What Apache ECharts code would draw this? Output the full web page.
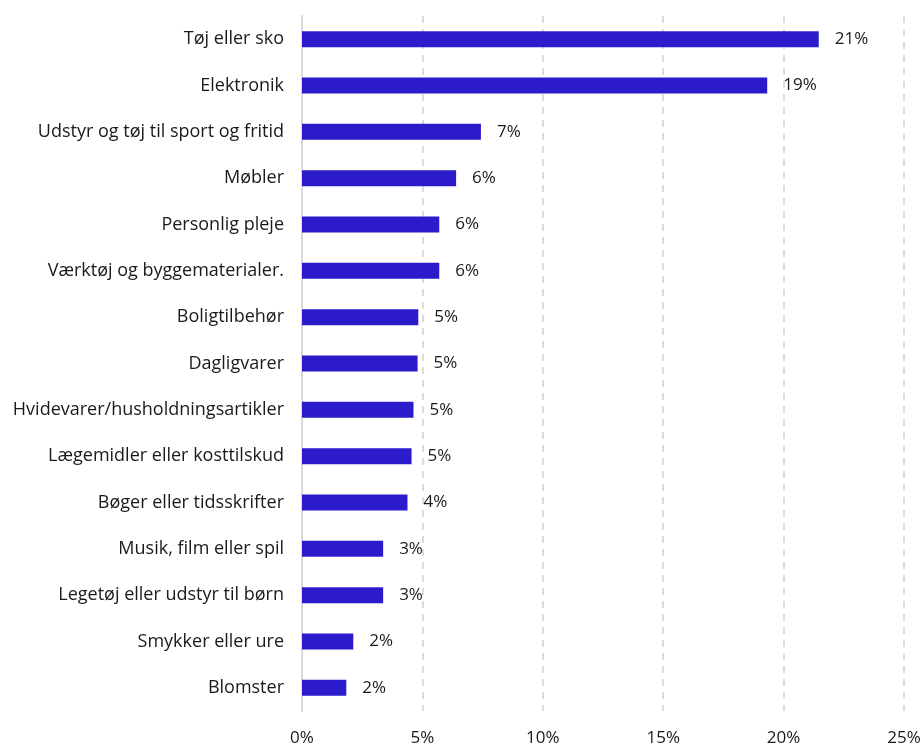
<!DOCTYPE html>
<html>
<head>
<meta charset="utf-8">
<script src="https://cdn.jsdelivr.net/npm/echarts@6/dist/echarts.min.js"></script>
<style>
  html, body { margin: 0; padding: 0; background: #fff; }
  #chart { width: 924px; height: 747px; }
</style>
</head>
<body>
<div id="chart"></div>
<script>
// Product categories bought online (share of respondents, %)
const categories = [
  "Tøj eller sko",
  "Elektronik",
  "Udstyr og tøj til sport og fritid",
  "Møbler",
  "Personlig pleje",
  "Værktøj og byggematerialer.",
  "Boligtilbehør",
  "Dagligvarer",
  "Hvidevarer/husholdningsartikler",
  "Lægemidler eller kosttilskud",
  "Bøger eller tidsskrifter",
  "Musik, film eller spil",
  "Legetøj eller udstyr til børn",
  "Smykker eller ure",
  "Blomster"
];
const shares = [21.46, 19.32, 7.43, 6.40, 5.70, 5.70, 4.83, 4.80, 4.63, 4.55, 4.38, 3.37, 3.37, 2.13, 1.84];
const axisTicks = [0, 5, 10, 15, 20, 25];

const FONT = "'Open Sans', Roboto, sans-serif";
const chart = echarts.init(document.getElementById('chart'), null, { renderer: 'canvas' });

chart.setOption({
  backgroundColor: '#ffffff',
  animation: false,
  grid: { left: 302, right: 20, top: 16, bottom: 33, containLabel: false },
  xAxis: {
    type: 'value',
    min: axisTicks[0],
    max: axisTicks[axisTicks.length - 1],
    interval: axisTicks[1] - axisTicks[0],
    axisLine: { show: false },
    axisTick: { show: false },
    axisLabel: {
      color: '#1a1a1a', fontSize: 17, fontFamily: FONT, margin: 19,
      formatter: v => v + '%'
    },
    splitLine: {
      show: true,
      lineStyle: { color: '#dcdcdc', width: 2, type: [7, 6] }
    }
  },
  yAxis: {
    type: 'category',
    data: categories,
    inverse: true,
    axisLine: { show: true, lineStyle: { color: '#d9d9d9', width: 2 } },
    axisTick: { show: false },
    axisLabel: {
      color: '#1a1a1a', fontSize: 18, fontFamily: FONT, margin: 18,
      lineHeight: 22, padding: [5, 0, 0, 0]
    },
    splitLine: { show: false }
  },
  series: [{
    type: 'bar',
    data: shares,
    barWidth: 16,
    itemStyle: { color: '#2b1bca' },
    label: {
      show: true,
      position: 'right',
      distance: 16,
      color: '#1a1a1a',
      fontSize: 17,
      fontFamily: FONT,
      lineHeight: 21,
      padding: [5, 0, 0, 0],
      formatter: p => Math.round(p.value) + '%'
    },
    z: 3
  }]
});
</script>
</body>
</html>
